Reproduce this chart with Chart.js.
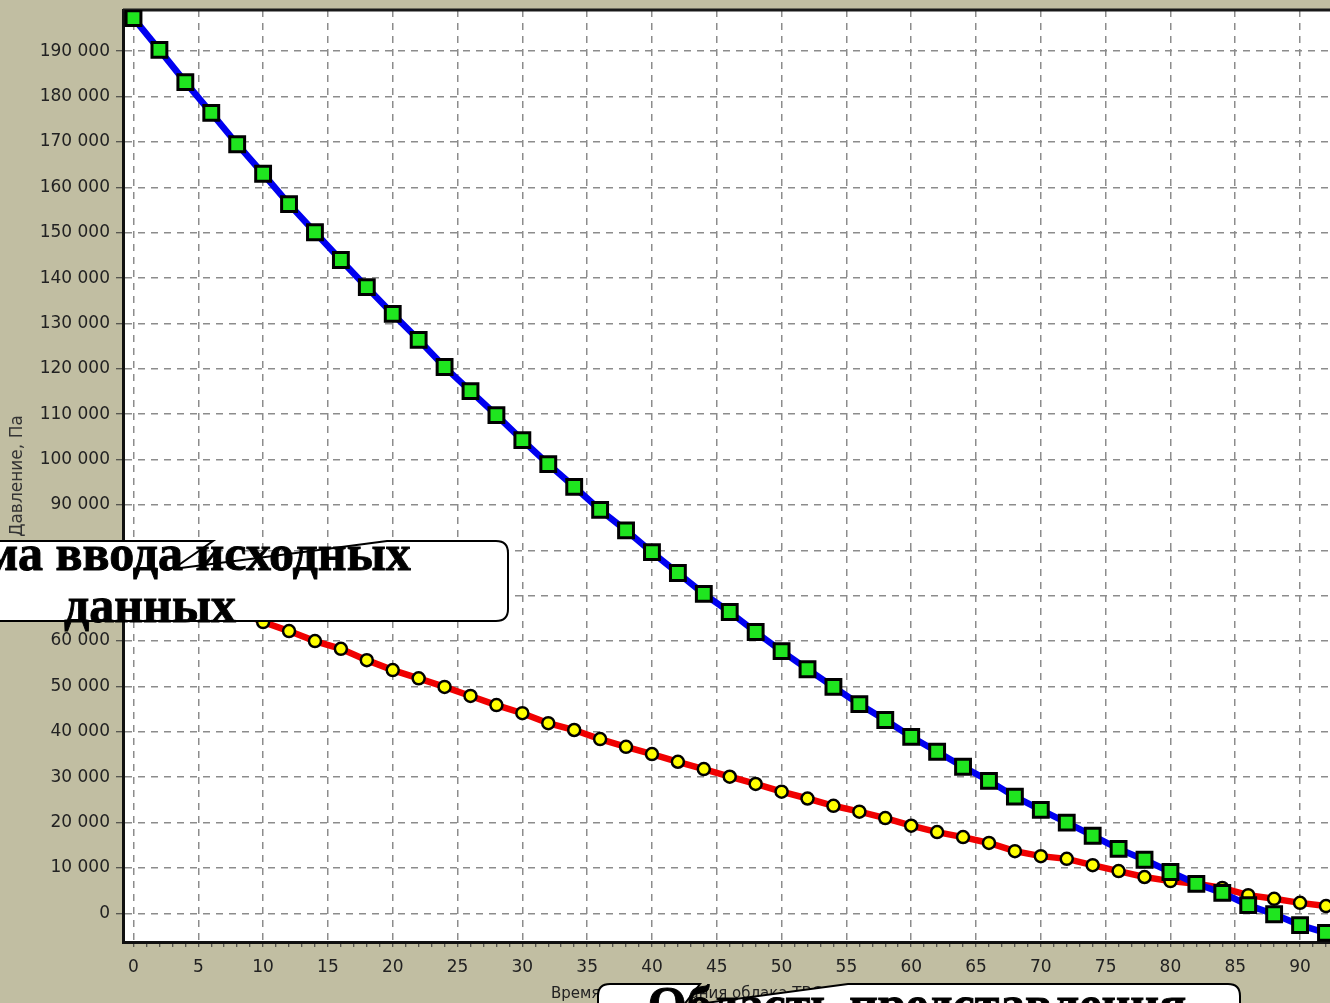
<!DOCTYPE html>
<html><head><meta charset="utf-8">
<script src="https://cdn.jsdelivr.net/npm/chart.js@4/dist/chart.umd.min.js"></script>
<style>
html,body{margin:0;padding:0;width:1330px;height:1003px;overflow:hidden;background:#C1BEA2;}
#wrap{position:relative;width:1330px;height:1003px;overflow:hidden;}
canvas{position:absolute;left:0;top:0;}
#xtitle{position:absolute;left:551px;top:984px;font:15px "DejaVu Sans";color:#222;white-space:nowrap;}
svg{position:absolute;left:0;top:0;}
.call{position:absolute;font:bold 50px "Liberation Serif";color:#000;text-align:center;white-space:nowrap;line-height:52px;-webkit-text-stroke:0.9px #000;}
</style></head><body>
<div id="wrap">
<canvas id="c" width="1330" height="1003"></canvas>
<div id="xtitle">Время существования облака ТВС, мс</div>
<svg width="1330" height="1003">
<path d="M -260 541 L 213 541 L 173 569 L 387 541 L 496 541 Q 508 541 508 553 L 508 609 Q 508 621 496 621 L -260 621 Z" fill="#fff" stroke="#000" stroke-width="2"/>
<path d="M 598 1012 L 598 996 Q 598 984 610 984 L 700 984 L 683 1006 L 848 984 L 1228 984 Q 1240 984 1240 996 L 1240 1012 Z" fill="#fff" stroke="#000" stroke-width="2"/>
</svg>
<div class="call" style="left:-150px;width:600px;top:527px;">Форма ввода исходных<br>данных</div>
<div class="call" style="left:617px;width:600px;top:978px;">Область представления</div>
</div>
<script>
// ---- data ----
const timeValues = [0,2,4,6,8,10,12,14,16,18,20,22,24,26,28,30,32,34,36,38,40,42,44,46,48,50,52,54,56,58,60,62,64,66,68,70,72,74,76,78,80,82,84,86,88,90,92];
const pressureBlue = [197300,190300,183200,176400,169500,163000,156300,150100,144000,138000,132100,126400,120400,115100,109800,104300,99000,94000,88900,84400,79600,75000,70400,66400,62000,57800,53800,49900,46100,42600,38900,35600,32300,29200,25700,22800,20000,17100,14200,11800,9100,6500,4500,1800,-200,-2600,-4300];
const pressureRed = [78500,75000,71800,69000,66500,64200,62200,60000,58300,55800,53600,51800,49900,47900,45900,44100,41900,40400,38400,36700,35100,33400,31800,30100,28500,26800,25300,23700,22400,21000,19300,17900,16800,15500,13700,12600,12000,10600,9300,8000,7100,6500,5600,4000,3200,2300,1600];
const xMajorTicks = [0,5,10,15,20,25,30,35,40,45,50,55,60,65,70,75,80,85,90];
const xMinorTicks = [0,1,2,3,4,5,6,7,8,9,10,11,12,13,14,15,16,17,18,19,20,21,22,23,24,25,26,27,28,29,30,31,32,33,34,35,36,37,38,39,40,41,42,43,44,45,46,47,48,49,50,51,52,53,54,55,56,57,58,59,60,61,62,63,64,65,66,67,68,69,70,71,72,73,74,75,76,77,78,79,80,81,82,83,84,85,86,87,88,89,90,91,92];
const yTicks = [0,10000,20000,30000,40000,50000,60000,70000,80000,90000,100000,110000,120000,130000,140000,150000,160000,170000,180000,190000];
const yTitle = 'Давление, Па';

const fmt = v => String(v).replace(/\B(?=(\d{3})+(?!\d))/g, ' ');
const tickFont = {family: 'DejaVu Sans', size: 17};

const areaPlugin = {
  id: 'area',
  beforeDraw(chart) {
    const {ctx, chartArea: a} = chart;
    ctx.save();
    ctx.fillStyle = '#ffffff';
    ctx.fillRect(a.left, a.top, a.right - a.left, a.bottom - a.top);
    ctx.restore();
  },
  beforeDatasetsDraw(chart) {
    const {ctx, chartArea: a} = chart;
    ctx.save();
    ctx.strokeStyle = '#1a1a1a';
    ctx.lineWidth = 3;
    ctx.beginPath();
    ctx.moveTo(a.left, a.top);
    ctx.lineTo(a.right, a.top);
    ctx.stroke();
    ctx.restore();
  }
};

new Chart(document.getElementById('c'), {
  type: 'line',
  data: {
    datasets: [
      {
        data: timeValues.map((x, i) => ({x, y: pressureBlue[i]})),
        borderColor: '#0000f0', borderWidth: 6.5,
        pointStyle: 'rect', pointRadius: 10.5, pointHoverRadius: 10.5,
        pointBackgroundColor: '#1fe51f', pointBorderColor: '#000', pointBorderWidth: 3,
        tension: 0
      },
      {
        data: timeValues.map((x, i) => ({x, y: pressureRed[i]})),
        borderColor: '#f00000', borderWidth: 6.5,
        pointStyle: 'circle', pointRadius: 6, pointHoverRadius: 6,
        pointBackgroundColor: '#ffff00', pointBorderColor: '#000', pointBorderWidth: 2.5,
        tension: 0
      }
    ]
  },
  options: {
    responsive: false, animation: false, devicePixelRatio: 1,
    layout: {padding: {top: 10, left: 0, right: 0, bottom: 0}, autoPadding: false},
    plugins: {legend: {display: false}, tooltip: {enabled: false}},
    scales: {
      x: {
        type: 'linear', min: -0.81, max: 92.31,
        afterBuildTicks: ax => { ax.ticks = xMinorTicks.map(v => ({value: v})); },
        afterFit: s => { s.height = 61; s.paddingLeft = 0; s.paddingRight = 0; },
        ticks: {autoSkip: false, maxRotation: 0, font: tickFont, color: '#222', padding: 10,
          callback: v => xMajorTicks.includes(v) ? String(v) : ''},
        grid: {
          color: c => (c.tick && xMajorTicks.includes(c.tick.value)) ? '#8c8c8c' : 'rgba(0,0,0,0)',
          lineWidth: 1.5, tickLength: 5, tickColor: '#333', tickWidth: 1
        },
        border: {color: '#111', width: 3, dash: [7, 6]},
        title: {display: false}
      },
      y: {
        type: 'linear', min: -6325, max: 199090,
        afterBuildTicks: ax => { ax.ticks = yTicks.map(v => ({value: v})); },
        afterFit: s => { s.width = 123; s.paddingTop = 0; s.paddingBottom = 0; },
        ticks: {font: tickFont, color: '#222', padding: 6, callback: v => fmt(v)},
        grid: {color: '#8c8c8c', lineWidth: 1.5, tickLength: 7, tickColor: '#333', tickWidth: 1},
        border: {color: '#111', width: 3, dash: [7, 6]},
        title: {display: true, text: yTitle, font: {family: 'DejaVu Sans', size: 17}, color: '#333', padding: {top: 7, bottom: 0}}
      }
    }
  },
  plugins: [areaPlugin]
});
</script>
</body></html>
